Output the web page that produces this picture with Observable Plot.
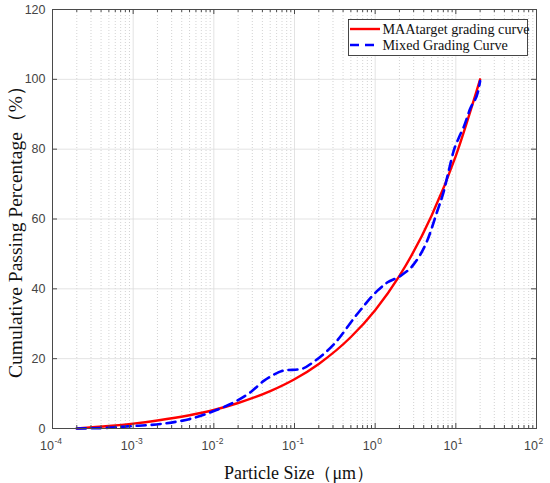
<!DOCTYPE html>
<html><head><meta charset="utf-8">
<script src="https://cdn.jsdelivr.net/npm/d3@7"></script>
<script src="https://cdn.jsdelivr.net/npm/@observablehq/plot@0.6"></script>
<style>body{margin:0;background:#fff}#chart svg{display:block}</style>
</head><body><div id="chart"></div>
<script>
// ---- data ----
const targetSize    = [0.0002, 0.0005, 0.001, 0.002, 0.005, 0.01, 0.02, 0.05, 0.1, 0.2, 0.5, 1, 2, 5, 10, 20];
const targetPassing = [0, 0.7, 1.4, 2.3, 3.8, 5.3, 7.3, 10.7, 14.1, 18.5, 26.2, 33.9, 43.7, 60.9, 78.1, 100];

const mixedSize    = [0.0002, 0.0005, 0.00085, 0.0022, 0.0056, 0.01, 0.0195, 0.0285, 0.042, 0.05, 0.074, 0.119, 0.18, 0.31, 0.6, 1.06, 1.41, 2.06, 3.0, 4.4, 5.9, 7.1, 8.2, 9.4, 11, 12.6, 15, 19.3, 20];
const mixedPassing = [0, 0.2, 0.6, 1.3, 3.0, 5.0, 8.0, 10.4, 13.7, 14.8, 16.6, 17.0, 19.4, 24.2, 32.8, 39.4, 41.8, 43.7, 47.0, 53.7, 62.3, 68.0, 74.0, 79.5, 83.5, 86.5, 91.5, 97.5, 99.5];

const seriesNames = ["MAAtarget grading curve", "Mixed Grading Curve"];
const xDecades   = [1e-4, 1e-3, 1e-2, 1e-1, 1, 10, 100];
const xExponents = ["-4", "-3", "-2", "-1", "0", "1", "2"];
const yTicks     = [0, 20, 40, 60, 80, 100, 120];
const xLabel = "Particle Size（μm）";
const yLabel = "Cumulative Passing Percentage（%）";

// ---- layout ----
const W = 550, H = 483, mL = 52, mR = 14, mT = 9, mB = 55;
const pw = W - mL - mR, ph = H - mT - mB;
const minorTicks = xDecades.slice(0, -1).flatMap(d => [2,3,4,5,6,7,8,9].map(k => d * k));
const target = targetSize.map((d, i) => ({d, p: targetPassing[i]}));
const mixed  = mixedSize.map((d, i) => ({d, p: mixedPassing[i]}));
const sans = "Liberation Sans, Arial, sans-serif";
const serif = "Liberation Serif, Times New Roman, serif";
const RED = "#ff0000", BLUE = "#0000ff";

const chart = Plot.plot({
  width: W, height: H,
  marginLeft: mL, marginRight: mR, marginTop: mT, marginBottom: mB,
  style: {background: "#fff", overflow: "visible"},
  x: {type: "log", domain: [1e-4, 100], axis: null},
  y: {domain: [0, 120], axis: null},
  marks: [
    Plot.ruleX(minorTicks, {stroke: "#c8c8c8", strokeDasharray: "1,2", strokeWidth: 0.8}),
    Plot.ruleX(xDecades, {stroke: "#dcdcdc", strokeWidth: 0.8}),
    Plot.ruleY(yTicks, {stroke: "#dcdcdc", strokeWidth: 0.8}),
    Plot.line(target, {x: "d", y: "p", stroke: RED, strokeWidth: 2.4, curve: "monotone-x"}),
    Plot.line(mixed, {x: "d", y: "p", stroke: BLUE, strokeWidth: 2.6, strokeDasharray: "9,6", curve: "monotone-x"}),
    Plot.frame({stroke: "#4a4a4a", strokeWidth: 1}),
    // inward ticks
    Plot.tickX(xDecades, {x: d => d, stroke: "#4a4a4a", insetTop: ph - 5}),
    Plot.tickX(xDecades, {x: d => d, stroke: "#4a4a4a", insetBottom: ph - 5}),
    Plot.tickX(minorTicks, {x: d => d, stroke: "#4a4a4a", insetTop: ph - 3}),
    Plot.tickX(minorTicks, {x: d => d, stroke: "#4a4a4a", insetBottom: ph - 3}),
    Plot.tickY(yTicks, {y: d => d, stroke: "#4a4a4a", insetRight: pw - 5}),
    Plot.tickY(yTicks, {y: d => d, stroke: "#4a4a4a", insetLeft: pw - 5}),
    // tick labels
    Plot.text(yTicks, {x: 1e-4, y: d => d, text: d => String(d), textAnchor: "end", dx: -7, fontSize: 12.5, fill: "#444", fontFamily: sans}),
    Plot.text(xDecades, {x: d => d, y: 0, text: () => "10", textAnchor: "end", dx: 1.5, dy: 17.5, fontSize: 12.5, fill: "#444", fontFamily: sans}),
    Plot.text(xDecades, {x: d => d, y: 0, text: (d, i) => xExponents[i], textAnchor: "start", dx: 2, dy: 12.5, fontSize: 8.5, fill: "#444", fontFamily: sans})
  ]
});
document.getElementById("chart").appendChild(chart);

// ---- axis labels & legend ----
const svg = d3.select(chart);
svg.append("text").attr("x", 299).attr("y", 479).attr("text-anchor", "middle")
  .attr("font-family", serif).attr("font-size", 18).attr("fill", "#111").text(xLabel);
svg.append("text").attr("transform", "translate(22,227) rotate(-90)").attr("text-anchor", "middle")
  .attr("font-family", serif).attr("font-size", 19.5).attr("fill", "#111").text(yLabel);

const lg = svg.append("g");
lg.append("rect").attr("x", 348.5).attr("y", 19.5).attr("width", 179).attr("height", 36)
  .attr("fill", "#fff").attr("stroke", "#333").attr("stroke-width", 0.9);
const rows = [{name: seriesNames[0], color: RED, dash: null, y: 29},
              {name: seriesNames[1], color: BLUE, dash: "9,6", y: 45}];
rows.forEach(r => {
  lg.append("line").attr("x1", 350).attr("x2", 380).attr("y1", r.y).attr("y2", r.y)
    .attr("stroke", r.color).attr("stroke-width", 2.4).attr("stroke-dasharray", r.dash);
  lg.append("text").attr("x", 382.5).attr("y", r.y + 4.8).attr("text-anchor", "start")
    .attr("font-family", serif).attr("font-size", 14.2).attr("fill", "#111").text(r.name);
});
</script>
</body></html>
